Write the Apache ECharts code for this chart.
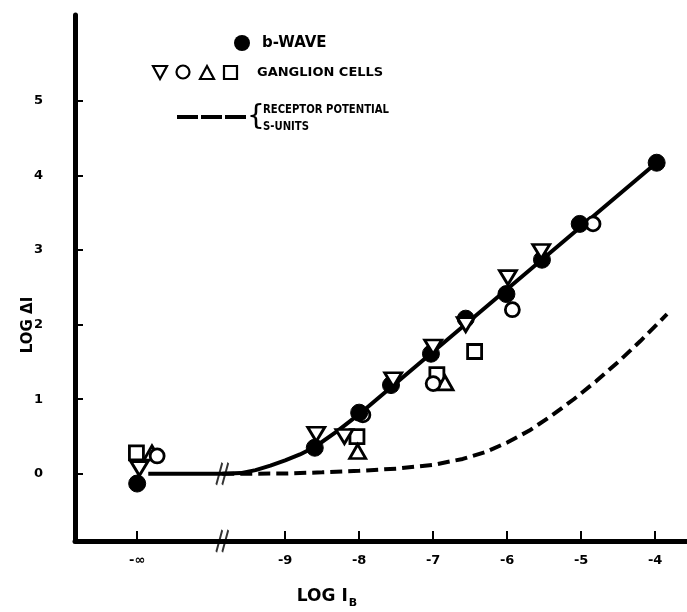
<!DOCTYPE html>
<html>
<head>
<meta charset="utf-8">
<script src="https://cdn.jsdelivr.net/npm/echarts@6/dist/echarts.min.js"></script>
<style>
  html, body { margin: 0; padding: 0; background: #fff; }
  #chart { width: 687px; height: 612px; }
</style>
</head>
<body>
<div id="chart"></div>
<script>
// x = log I_B, -11 stands for "-inf"; y = log delta I
var xTicks = [-11, -9, -8, -7, -6, -5, -4];
var yTicks = [0, 1, 2, 3, 4, 5];
var breakX = -9.85;

var bWave = [[-11, -0.13], [-8.6, 0.35], [-8.0, 0.82], [-7.57, 1.19], [-7.03, 1.61],
    [-6.56, 2.08], [-6.01, 2.41], [-5.53, 2.87], [-5.02, 3.35], [-3.98, 4.17]];
var gCircles = [[-10.73, 0.24], [-7.95, 0.79], [-7.0, 1.21], [-5.93, 2.2], [-4.84, 3.35]];
var gDown = [[-10.97, 0.07], [-8.58, 0.53], [-8.2, 0.5], [-7.54, 1.26], [-7.0, 1.7],
    [-6.56, 2.0], [-5.99, 2.63], [-5.54, 2.98]];
var gUp = [[-10.8, 0.28], [-8.02, 0.3], [-6.84, 1.22]];
var gSquares = [[-11.01, 0.28], [-8.03, 0.5], [-6.95, 1.33], [-6.44, 1.64]];

var bWaveCurve = [[-10.85, 0], [-9.85, 0], [-9.6, 0.01], [-9.4, 0.05], [-9.2, 0.11],
    [-9.0, 0.18], [-8.8, 0.26], [-8.6, 0.36], [-8.3, 0.57], [-8.0, 0.8], [-3.97, 4.18]];
var receptorCurve = [[-9.85, 0], [-9.0, 0.005], [-8.5, 0.02], [-8.0, 0.04], [-7.5, 0.07],
    [-7.0, 0.12], [-6.6, 0.2], [-6.3, 0.29], [-6.0, 0.42], [-5.7, 0.58], [-5.4, 0.78],
    [-5.1, 1.0], [-4.8, 1.24], [-4.5, 1.5], [-4.2, 1.78], [-3.84, 2.14]];

var font = "'DejaVu Sans', sans-serif";
var breakPath = 'path://M0,22 L6,0 M6,22 L12,0';

var chart = echarts.init(document.getElementById('chart'));

function marker(name, data, symbol, size, fill, rotate, z) {
    return {
        name: name,
        type: 'scatter',
        data: data,
        symbol: symbol,
        symbolSize: size,
        symbolRotate: rotate || 0,
        z: z,
        itemStyle: { color: fill, borderColor: '#000', borderWidth: fill == '#000' ? 1 : 2.8, opacity: 1 },
        emphasis: { disabled: true }
    };
}

var option = {
    backgroundColor: '#fff',
    animation: false,
    grid: { left: 75, right: 0, top: 15, bottom: 71 },
    xAxis: {
        type: 'value',
        min: -11.84,
        max: -3.57,
        axisLine: { show: true, onZero: false, lineStyle: { color: '#000', width: 5 } },
        axisTick: { show: true, inside: true, length: 10, customValues: xTicks, lineStyle: { color: '#000', width: 2 } },
        axisLabel: {
            customValues: xTicks,
            margin: 13,
            color: '#000',
            fontFamily: font,
            fontWeight: 'bold',
            fontSize: 13,
            formatter: function (v) { return v == -11 ? '-\u221e' : '-' + Math.abs(v); }
        },
        splitLine: { show: false }
    },
    yAxis: {
        type: 'value',
        min: -0.9,
        max: 6.15,
        axisLine: { show: true, onZero: false, lineStyle: { color: '#000', width: 5 } },
        axisTick: { show: true, inside: true, length: 8, customValues: yTicks, lineStyle: { color: '#000', width: 2 } },
        axisLabel: {
            customValues: yTicks,
            margin: 32,
            color: '#000',
            fontFamily: font,
            fontWeight: 'bold',
            fontSize: 13
        },
        splitLine: { show: false }
    },
    graphic: [
        // axis titles
        {
            type: 'text', x: 28, y: 325, rotation: Math.PI / 2,
            style: { text: 'LOG \u0394I', font: 'bold 15px ' + font, fill: '#000', align: 'center', verticalAlign: 'middle' }
        },
        {
            type: 'text', x: 327, y: 597,
            style: {
                text: '{a|LOG I}{b|B}', fill: '#000', align: 'center', verticalAlign: 'middle',
                rich: {
                    a: { font: 'bold 17px ' + font, fill: '#000' },
                    b: { font: 'bold 11px ' + font, fill: '#000', padding: [12, 0, 0, 1] }
                }
            }
        },
        // legend
        { type: 'circle', shape: { cx: 242, cy: 43, r: 8 }, style: { fill: '#000' } },
        { type: 'text', x: 262, y: 43, style: { text: 'b-WAVE', font: 'bold 15px ' + font, fill: '#000', verticalAlign: 'middle' } },
        { type: 'polygon', shape: { points: [[153, 66], [167, 66], [160, 79]] }, style: { fill: '#fff', stroke: '#000', lineWidth: 2.2 } },
        { type: 'circle', shape: { cx: 183, cy: 72, r: 6.5 }, style: { fill: '#fff', stroke: '#000', lineWidth: 2.2 } },
        { type: 'polygon', shape: { points: [[200, 79], [214, 79], [207, 66]] }, style: { fill: '#fff', stroke: '#000', lineWidth: 2.2 } },
        { type: 'rect', shape: { x: 224, y: 66, width: 13, height: 13 }, style: { fill: '#fff', stroke: '#000', lineWidth: 2.2 } },
        { type: 'text', x: 257, y: 73, style: { text: 'GANGLION CELLS', font: 'bold 13px ' + font, fill: '#000', verticalAlign: 'middle' } },
        { type: 'line', shape: { x1: 177, y1: 117, x2: 247, y2: 117 }, style: { stroke: '#000', lineWidth: 4, lineDash: [21, 3] } },
        { type: 'text', x: 256, y: 118, style: { text: '{', font: '28px ' + font, fill: '#000', align: 'center', verticalAlign: 'middle' } },
        { type: 'text', x: 263, y: 110, scaleX: 0.84, style: { text: 'RECEPTOR POTENTIAL', font: 'bold 12px ' + font, fill: '#000', verticalAlign: 'middle' } },
        { type: 'text', x: 263, y: 127, scaleX: 0.84, style: { text: 'S-UNITS', font: 'bold 12px ' + font, fill: '#000', verticalAlign: 'middle' } }
    ],
    series: [
        {
            name: 'b-wave curve',
            type: 'line',
            data: bWaveCurve,
            smooth: false,
            showSymbol: false,
            z: 2,
            lineStyle: { color: '#000', width: 4, join: 'round' }
        },
        {
            name: 'receptor potential',
            type: 'line',
            data: receptorCurve,
            smooth: false,
            showSymbol: false,
            z: 2,
            lineStyle: { color: '#000', width: 4, type: [12, 6] }
        },
        {
            name: 'breaks',
            type: 'scatter',
            data: [[breakX, 0], [breakX, -0.9]],
            symbol: breakPath,
            symbolSize: [12, 22],
            clip: false,
            z: 3,
            itemStyle: { color: 'none', borderColor: '#000', borderWidth: 2.5 },
            emphasis: { disabled: true }
        },
        marker('squares', gSquares, 'rect', 14, '#fff', 0, 4),
        marker('triangles', gUp, 'triangle', [16, 14], '#fff', 0, 4),
        marker('circles', gCircles, 'circle', 14, '#fff', 0, 4),
        marker('b-wave', bWave, 'circle', 17, '#000', 0, 5),
        marker('inverted triangles', gDown, 'triangle', [17, 14], '#fff', 180, 6)
    ]
};

chart.setOption(option);
</script>
</body>
</html>
